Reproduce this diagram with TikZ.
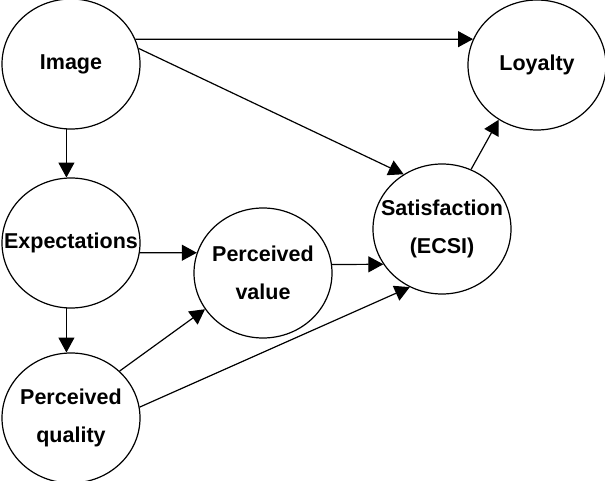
\documentclass[tikz,border=0pt]{standalone}
\usepackage{fontspec}
\setmainfont{Liberation Sans}
\usetikzlibrary{shapes.geometric, arrows.meta}

\begin{document}
\begin{tikzpicture}[
        x=1pt, y=-1pt,
        blob/.style={ellipse, draw, line width=1.2pt, minimum width=138pt,
            minimum height=130pt, inner sep=0pt},
        txt/.style={align=center, inner sep=0pt,
            font=\fontsize{21.5}{38}\selectfont\bfseries},
        link/.style={line width=1.2pt, -{Triangle[length=15pt,width=16pt]}}]

        \useasboundingbox (0,0) rectangle (605,481);

        \node[blob, label={[txt]center:Image}] (Img) at (71,64) {};
        \node[blob, label={[txt]center:Loyalty}] (Loy) at (537,65) {};
        \node[blob, label={[txt]center:Expectations}] (Exp) at (71,243) {};
        \node[blob, label={[txt]center:Perceived\\quality}] (PQ) at (71,418) {};
        \node[blob, label={[txt]center:Perceived\\value}] (PV) at (263,273) {};
        \node[blob, label={[txt]center:Satisfaction\\(ECSI)}] (Sat) at (442,229) {};

        \draw[link] (Img.21) -- (Loy.158);
        \draw[link] (Img.13) -- (Sat.125);
        \draw[link] (Img.266) -- (Exp.94);
        \draw[link] (Exp.-8) -- (PV.163);
        \draw[link] (Exp.266) -- (PQ.94);
        \draw[link] (PQ.44) -- (PV.212);
        \draw[link] (PQ.9) -- (Sat.241);
        \draw[link] (PV.7) -- (Sat.211);
        \draw[link] (Sat.64) -- (Loy.235);

    \end{tikzpicture}
\end{document}
